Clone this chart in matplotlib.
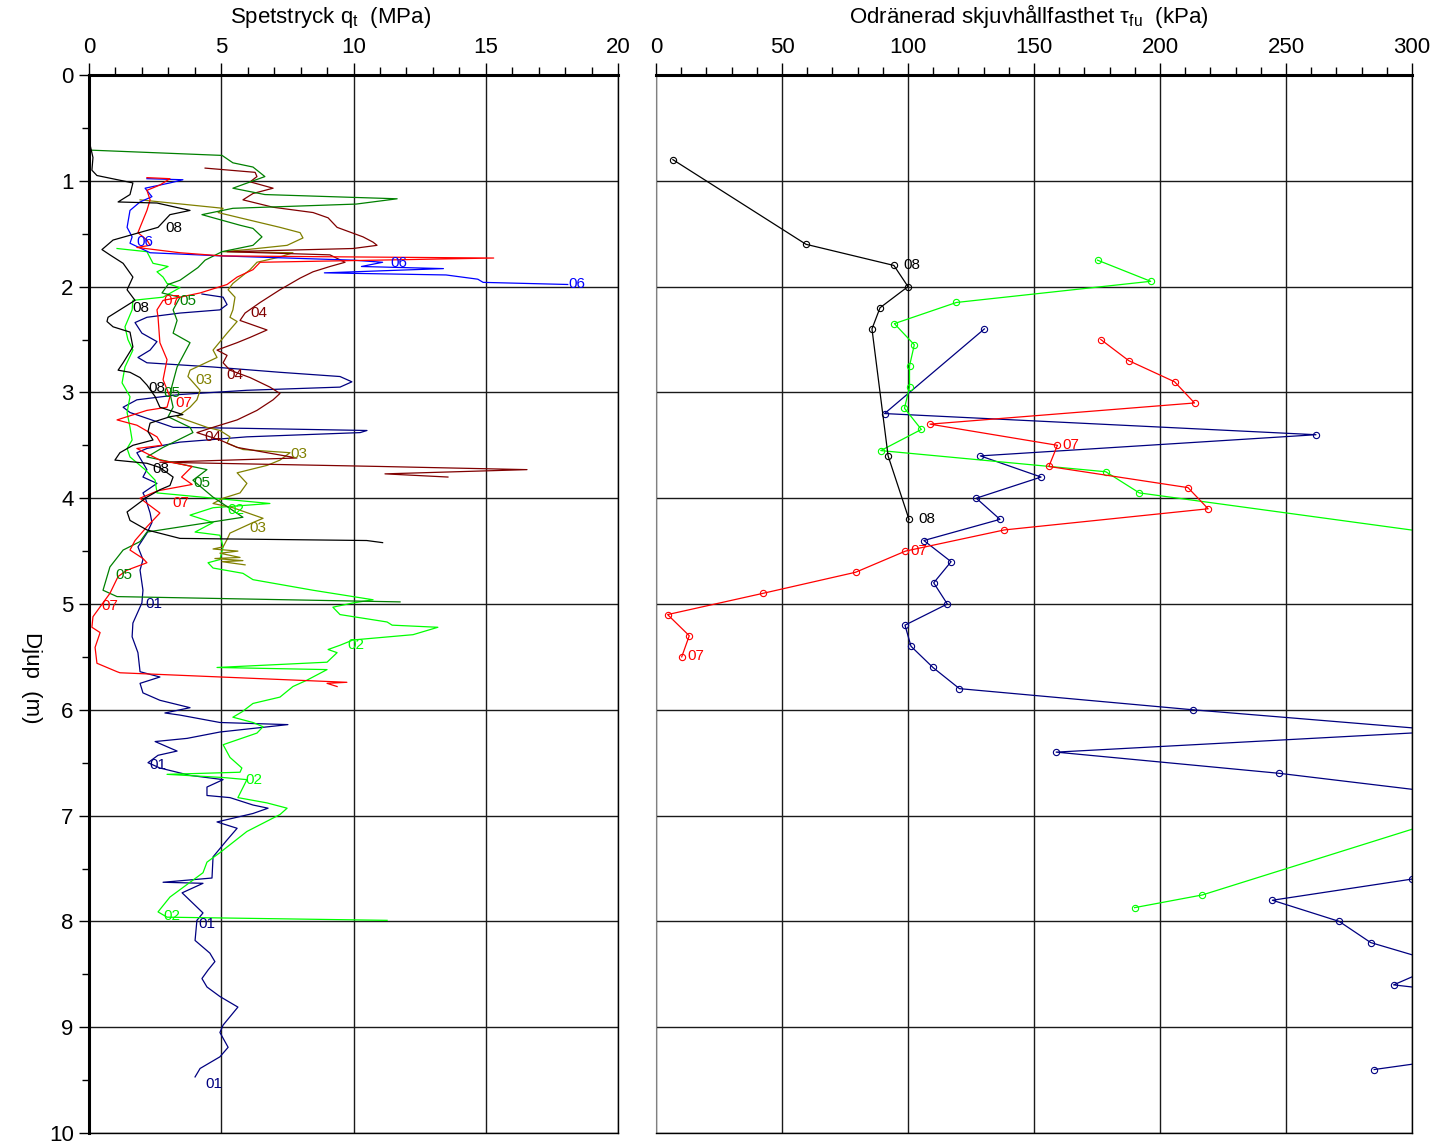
import matplotlib
matplotlib.use('Agg')
import matplotlib.pyplot as plt
from matplotlib.ticker import MultipleLocator

plt.rcParams['font.family'] = ['Liberation Sans', 'DejaVu Sans']
plt.rcParams['mathtext.fontset'] = 'custom'
plt.rcParams['mathtext.rm'] = 'Liberation Sans'
plt.rcParams['mathtext.it'] = 'Liberation Sans:italic'

# ---- CPT soundings, cone resistance qt (MPa) vs depth (m) ----
d01 = [2.07, 2.10, 2.17, 2.22, 2.25, 2.29, 2.34, 2.44, 2.52, 2.60, 2.67, 2.72, 2.76, 2.81, 2.85, 2.90, 2.95, 2.98,
       3.02, 3.07, 3.14, 3.19, 3.33, 3.34, 3.36, 3.38, 3.42, 3.47, 3.53, 3.57, 3.73, 3.80, 3.86, 3.95, 3.99, 4.14,
       4.23, 4.33, 4.46, 4.58, 4.68, 4.87, 4.99, 5.18, 5.31, 5.46, 5.64, 5.69, 5.75, 5.84, 5.91, 5.98, 6.03, 6.05,
       6.12, 6.14, 6.21, 6.27, 6.30, 6.39, 6.43, 6.50, 6.55, 6.62, 6.66, 6.73, 6.81, 6.83, 6.90, 6.93, 6.98, 7.06,
       7.12, 7.23, 7.39, 7.59, 7.63, 7.64, 7.73, 7.92, 7.99, 8.18, 8.30, 8.38, 8.46, 8.54, 8.62, 8.71, 8.81, 8.98,
       9.05, 9.19, 9.28, 9.39, 9.47]
q01 = [4.27, 5.07, 5.22, 4.95, 3.44, 2.19, 1.74, 2.00, 2.57, 2.31, 1.85, 2.19, 4.69, 7.22, 9.49, 9.94, 9.49, 5.97,
       3.44, 1.81, 1.29, 1.55, 3.18, 5.97, 10.51, 10.25, 5.97, 3.44, 2.19, 1.81, 2.19, 2.04, 2.57, 2.04, 2.12, 2.31,
       2.38, 2.19, 1.85, 2.04, 1.93, 2.04, 2.00, 1.66, 1.63, 1.85, 1.93, 2.68, 1.93, 2.04, 2.68, 3.82, 2.87, 3.44,
       4.95, 7.52, 4.95, 3.71, 2.50, 3.33, 2.61, 2.23, 2.68, 3.82, 5.07, 4.46, 4.46, 5.33, 6.20, 6.77, 6.20, 4.84,
       5.60, 5.22, 4.69, 4.65, 2.80, 4.31, 3.52, 4.31, 4.08, 4.01, 4.57, 4.76, 4.50, 4.27, 4.46, 4.95, 5.63, 5.07,
       4.95, 5.26, 4.95, 4.20, 4.01]

d02 = [1.64, 1.67, 1.78, 1.81, 1.86, 1.91, 1.97, 2.01, 2.10, 2.13, 2.22, 2.38, 2.50, 2.60, 2.76, 2.91, 3.04, 3.19,
       3.33, 3.45, 3.53, 3.61, 3.73, 3.83, 3.95, 4.05, 4.09, 4.16, 4.23, 4.32, 4.35, 4.46, 4.58, 4.61, 4.66, 4.71,
       4.77, 4.87, 4.96, 4.99, 5.03, 5.10, 5.17, 5.20, 5.22, 5.29, 5.34, 5.39, 5.43, 5.46, 5.55, 5.60, 5.62, 5.72,
       5.78, 5.88, 5.94, 6.02, 6.07, 6.12, 6.16, 6.22, 6.33, 6.45, 6.55, 6.59, 6.61, 6.64, 6.66, 6.83, 6.88, 6.93,
       6.99, 7.15, 7.35, 7.44, 7.54, 7.68, 7.77, 7.91, 7.96, 7.99]
q02 = [1.06, 2.19, 2.42, 2.99, 2.57, 2.80, 2.95, 3.44, 2.80, 1.66, 1.63, 1.36, 1.47, 1.66, 1.36, 1.25, 1.55, 1.44,
       1.55, 1.63, 1.44, 1.55, 2.12, 2.50, 2.57, 6.84, 4.69, 3.82, 4.69, 4.01, 4.95, 5.07, 4.95, 4.50, 4.69, 5.82,
       6.20, 8.47, 10.74, 9.98, 9.22, 9.49, 11.27, 11.46, 13.19, 12.25, 9.98, 9.49, 9.04, 9.38, 9.00, 4.84, 9.00, 8.24,
       7.71, 7.22, 6.20, 5.78, 5.44, 6.20, 6.58, 6.35, 5.07, 5.33, 5.78, 5.71, 2.95, 5.07, 5.97, 5.63, 6.73, 7.49,
       7.22, 5.97, 4.95, 4.46, 4.31, 3.55, 3.06, 2.61, 2.95, 11.27]

d03 = [1.18, 1.26, 1.30, 1.35, 1.44, 1.49, 1.54, 1.61, 1.65, 1.67, 1.68, 1.72, 1.77, 1.84, 1.97, 2.03, 2.10, 2.22,
       2.29, 2.33, 2.44, 2.60, 2.67, 2.79, 2.85, 2.98, 3.07, 3.14, 3.23, 3.33, 3.36, 3.42, 3.48, 3.54, 3.57, 3.64,
       3.69, 3.76, 3.86, 3.95, 4.00, 4.05, 4.09, 4.19, 4.23, 4.33, 4.39, 4.46, 4.48, 4.50, 4.52, 4.56, 4.57, 4.59,
       4.60, 4.63]
q03 = [1.93, 5.07, 4.88, 5.71, 7.22, 7.98, 8.09, 7.49, 5.97, 5.07, 7.71, 7.22, 6.35, 6.09, 5.44, 5.26, 5.52, 5.44,
       5.33, 5.60, 5.22, 4.69, 4.84, 3.82, 3.74, 4.20, 4.08, 3.82, 3.33, 4.46, 4.95, 5.33, 5.22, 5.82, 7.60, 7.22,
       6.73, 5.60, 5.97, 5.71, 5.07, 4.69, 5.44, 6.58, 6.20, 5.33, 5.22, 5.07, 4.69, 5.63, 4.95, 5.71, 4.76, 5.82,
       5.03, 5.90]

d04 = [0.88, 0.92, 0.96, 1.01, 1.07, 1.12, 1.18, 1.25, 1.30, 1.35, 1.44, 1.53, 1.58, 1.61, 1.64, 1.67, 1.70, 1.77,
       1.81, 1.86, 1.92, 2.03, 2.15, 2.25, 2.32, 2.41, 2.48, 2.53, 2.60, 2.65, 2.72, 2.79, 2.86, 2.95, 3.01, 3.07,
       3.17, 3.26, 3.33, 3.38, 3.45, 3.52, 3.57, 3.62, 3.66, 3.70, 3.73, 3.77, 3.80]
q04 = [4.39, 6.28, 6.35, 6.09, 6.96, 6.20, 5.82, 6.96, 8.47, 9.04, 9.38, 10.36, 10.74, 10.89, 9.98, 5.22, 9.11, 9.68,
       9.11, 8.47, 7.98, 7.22, 6.47, 5.90, 5.71, 6.73, 6.09, 5.60, 4.84, 5.22, 5.07, 5.33, 6.09, 6.84, 7.22, 6.96,
       6.35, 5.60, 4.69, 4.08, 4.95, 5.60, 6.73, 7.86, 2.68, 11.00, 16.56, 11.19, 13.57]

d05 = [0.71, 0.76, 0.83, 0.87, 0.96, 1.07, 1.13, 1.17, 1.22, 1.26, 1.32, 1.42, 1.45, 1.53, 1.61, 1.67, 1.75, 1.82,
       1.94, 1.98, 2.06, 2.10, 2.22, 2.32, 2.44, 2.53, 2.76, 3.01, 3.14, 3.23, 3.33, 3.38, 3.52, 3.61, 3.73, 3.83,
       3.99, 4.18, 4.32, 4.41, 4.49, 4.65, 4.87, 4.93, 4.98]
q05 = [0.04, 5.03, 5.44, 6.20, 6.65, 5.44, 6.65, 11.65, 10.10, 5.44, 4.27, 5.71, 6.20, 6.54, 6.20, 5.03, 4.39, 4.12,
       3.44, 2.99, 2.76, 3.44, 3.18, 3.33, 3.18, 3.82, 3.33, 3.06, 3.18, 2.99, 3.82, 3.93, 2.80, 2.19, 4.46, 3.93,
       4.69, 5.82, 2.19, 1.93, 1.29, 0.79, 0.53, 1.06, 11.76]

d06 = [0.98, 0.99, 1.02, 1.07, 1.15, 1.20, 1.28, 1.44, 1.53, 1.59, 1.68, 1.71, 1.75, 1.77, 1.81, 1.83, 1.87, 1.89,
       1.93, 1.96, 1.98]
q06 = [2.19, 3.55, 3.06, 2.12, 2.38, 1.93, 1.55, 1.44, 1.63, 1.55, 2.31, 5.03, 9.98, 11.10, 10.30, 13.40, 8.90, 13.50,
       14.70, 14.90, 18.10]

d07 = [0.97, 0.98, 1.04, 1.09, 1.18, 1.28, 1.44, 1.49, 1.56, 1.61, 1.63, 1.68, 1.71, 1.73, 1.77, 1.84, 1.91, 1.98,
       2.06, 2.10, 2.13, 2.22, 2.29, 2.53, 2.69, 2.88, 3.04, 3.14, 3.17, 3.26, 3.31, 3.42, 3.50, 3.53, 3.64, 3.70,
       3.80, 3.87, 3.93, 4.00, 4.14, 4.27, 4.40, 4.49, 4.57, 4.61, 4.68, 4.74, 4.90, 5.12, 5.22, 5.27, 5.41, 5.56,
       5.64, 5.65, 5.74, 5.75, 5.78]
q07 = [2.19, 3.06, 2.68, 2.19, 2.31, 2.19, 1.93, 1.85, 2.19, 2.31, 1.81, 3.44, 5.03, 15.30, 6.47, 6.20, 5.60, 5.22,
       4.20, 3.44, 2.80, 2.57, 2.61, 2.68, 2.95, 2.80, 3.06, 2.95, 2.19, 1.06, 1.81, 2.57, 2.76, 1.81, 2.68, 3.90,
       3.50, 3.90, 2.60, 1.93, 2.68, 2.19, 1.74, 1.55, 2.04, 2.19, 1.44, 1.10, 0.79, 0.15, 0.11, 0.42, 0.23, 0.30,
       1.06, 1.17, 9.75, 9.00, 9.38]

d08 = [0.66, 0.78, 0.90, 0.95, 1.02, 1.13, 1.20, 1.21, 1.28, 1.32, 1.44, 1.56, 1.65, 1.70, 1.78, 1.91, 2.03, 2.13,
       2.29, 2.33, 2.38, 2.43, 2.57, 2.72, 2.79, 2.81, 2.86, 2.93, 3.04, 3.14, 3.21, 3.23, 3.29, 3.37, 3.45, 3.50,
       3.57, 3.64, 3.67, 3.71, 3.80, 3.88, 3.92, 3.99, 4.13, 4.21, 4.30, 4.38, 4.40, 4.42]
q08 = [0.04, 0.15, 0.11, 0.30, 1.66, 1.55, 1.10, 2.57, 3.82, 3.06, 2.61, 0.91, 0.49, 0.79, 1.29, 1.66, 1.44, 1.74,
       0.72, 0.68, 0.91, 1.55, 1.66, 1.29, 1.10, 1.55, 1.93, 2.19, 2.50, 2.68, 3.55, 3.06, 2.31, 2.23, 2.42, 1.66,
       1.17, 0.98, 2.19, 2.68, 3.18, 3.06, 2.68, 2.19, 1.44, 1.55, 2.19, 3.44, 10.50, 11.10]

# curve labels: (qt, depth) where the sounding number is written
lab01 = [(2.12, 5.00), (2.27, 6.52), (4.12, 8.02), (4.39, 9.54)]
lab02 = [(5.22, 4.11), (9.75, 5.39), (5.90, 6.66), (2.80, 7.95)]
lab03 = [(4.01, 2.88), (7.60, 3.58), (6.05, 4.28)]
lab04 = [(6.09, 2.25), (5.18, 2.84), (4.35, 3.42)]
lab05 = [(3.42, 2.14), (2.80, 3.01), (3.93, 3.86), (0.98, 4.73)]
lab06 = [(1.78, 1.58), (11.38, 1.78), (18.11, 1.98)]
lab07 = [(2.80, 2.14), (3.25, 3.10), (3.14, 4.05), (0.45, 5.02)]
lab08 = [(2.87, 1.45), (1.63, 2.20), (2.23, 2.96), (2.38, 3.72)]

# ---- undrained shear strength (kPa) vs depth (m) ----
dr01 = [2.4, 3.2, 3.4, 3.6, 3.8, 4.0, 4.2, 4.4, 4.6, 4.8, 5.0, 5.2, 5.4, 5.6, 5.8, 6.0, 6.2, 6.4, 6.6, 6.8,
        7.0, 7.2, 7.4, 7.6, 7.8, 8.0, 8.2, 8.4, 8.6, 8.8, 9.0, 9.2, 9.4]
tr01 = [130.3, 90.7, 261.9, 128.7, 152.8, 127.1, 136.5, 106.3, 117.1, 110.2, 115.6, 98.8, 101.2, 109.9, 120.4,
        213.1, 315.0, 158.8, 247.2, 317.0, 330.0, 340.0, 320.0, 300.0, 244.6, 271.1, 283.6, 312.0, 292.7, 366.0,
        380.0, 345.0, 285.0]
dr02 = [1.75, 1.95, 2.15, 2.35, 2.55, 2.75, 2.95, 3.15, 3.35, 3.55, 3.75, 3.95, 4.35, 6.95, 7.75, 7.87]
tr02 = [175.2, 196.3, 119.2, 94.6, 102.5, 100.6, 100.6, 98.6, 105.3, 89.2, 178.5, 191.8, 315.0, 324.0, 216.8, 189.9]
dr07 = [2.5, 2.7, 2.9, 3.1, 3.3, 3.5, 3.7, 3.9, 4.1, 4.3, 4.5, 4.7, 4.9, 5.1, 5.3, 5.5]
tr07 = [176.5, 187.6, 205.8, 213.7, 108.7, 159.3, 155.9, 211.1, 219.1, 138.2, 99.0, 79.2, 42.3, 4.6, 13.2, 10.2]
dr08 = [0.8, 1.6, 1.8, 2.0, 2.2, 2.4, 3.6, 4.2]
tr08 = [6.7, 59.5, 94.4, 100.0, 88.9, 85.7, 92.1, 100.4]

labr07 = [(160.3, 3.5), (100.0, 4.5), (11.5, 5.49)]
labr08 = [(97.2, 1.8), (103.2, 4.2)]

colors = {'01': '#000080', '02': '#00ff00', '03': '#808000', '04': '#800000',
          '05': '#008000', '06': '#0000ff', '07': '#ff0000', '08': '#000000'}

cpt = [('01', d01, q01, lab01), ('02', d02, q02, lab02), ('03', d03, q03, lab03),
       ('04', d04, q04, lab04), ('05', d05, q05, lab05), ('06', d06, q06, lab06),
       ('07', d07, q07, lab07), ('08', d08, q08, lab08)]
vane = [('01', dr01, tr01, []), ('02', dr02, tr02, []), ('07', dr07, tr07, labr07), ('08', dr08, tr08, labr08)]

fig = plt.figure(figsize=(14.34, 11.47), dpi=100)
ax1 = fig.add_axes([89 / 1434, 14 / 1147, 529 / 1434, 1058 / 1147])
ax2 = fig.add_axes([656 / 1434, 14 / 1147, 756 / 1434, 1058 / 1147])


def style_axes(ax, xmax, xmajor, xminor, title, title_x):
    ax.set_xlim(0, xmax)
    ax.set_ylim(10, 0)
    ax.xaxis.tick_top()
    ax.xaxis.set_label_position('top')
    ax.xaxis.set_major_locator(MultipleLocator(xmajor))
    ax.xaxis.set_minor_locator(MultipleLocator(xminor))
    ax.yaxis.set_major_locator(MultipleLocator(1))
    ax.yaxis.set_minor_locator(MultipleLocator(0.5))
    ax.tick_params(axis='x', which='major', direction='out', length=9, width=1, labelsize=16, pad=3)
    ax.tick_params(axis='x', which='minor', direction='out', length=6, width=1)
    ax.grid(True, which='major', color='#1a1a1a', linewidth=1.0)
    ax.set_axisbelow(True)
    ax.set_xlabel(title, fontsize=16, labelpad=9)
    ax.xaxis.set_label_coords(title_x, 1.0 + 45 / 1058, transform=ax.transAxes)
    ax.xaxis.label.set_va('bottom')
    ax.spines['top'].set_linewidth(2.2)
    ax.spines['right'].set_linewidth(1.0)
    ax.spines['bottom'].set_linewidth(1.0)


style_axes(ax1, 20, 5, 1, 'Spetstryck q$_\\mathregular{t}$  (MPa)', 0.457)
style_axes(ax2, 300, 50, 10, 'Odränerad skjuvhållfasthet $\\mathregular{\\tau}_\\mathregular{fu}$  (kPa)', 0.493)

ax1.spines['left'].set_linewidth(2.2)
ax1.tick_params(axis='y', which='major', direction='out', length=7, width=1, labelsize=16, pad=4)
ax1.tick_params(axis='y', which='minor', direction='out', length=5, width=1)
ax1.set_ylabel('Djup  (m)', fontsize=16, rotation=270, va='bottom')
ax1.yaxis.set_label_coords(-0.128, 0.43)

ax2.spines['left'].set_color('#808080')
ax2.tick_params(axis='y', which='both', left=False, labelleft=False)

# cone resistance profiles
for name, d, q, labels in cpt:
    ax1.plot(q, d, color=colors[name], linewidth=0.9)
    for x, y in labels:
        ax1.text(x, y, name, color=colors[name], fontsize=11, ha='left', va='center')

# shear strength points
for name, d, t, labels in vane:
    ax2.plot(t, d, color=colors[name], linewidth=0.9, marker='o', markersize=4.5,
             markerfacecolor='none', markeredgewidth=0.8)
    for x, y in labels:
        ax2.text(x + 1, y, name, color=colors[name], fontsize=11, ha='left', va='center')

fig.savefig('out.png', dpi=100)
